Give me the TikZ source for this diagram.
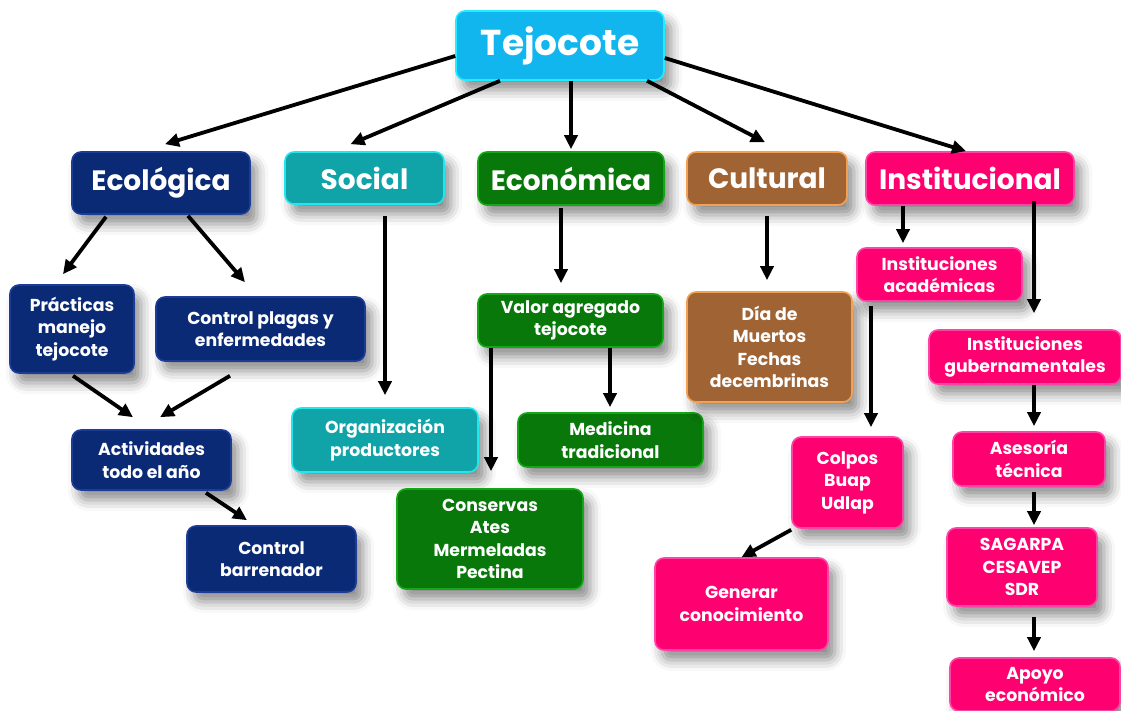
\documentclass[tikz,border=0pt]{standalone}
\usepackage{fontspec}
\setmainfont{Poppins}
\usetikzlibrary{arrows.meta,calc,shadows.blur}

\definecolor{cyanF}{HTML}{12B6EE}\definecolor{cyanE}{HTML}{22EEFF}
\definecolor{navyF}{HTML}{0B2A76}\definecolor{navyE}{HTML}{1C3C98}
\definecolor{tealF}{HTML}{10A4A8}\definecolor{tealE}{HTML}{22E6EE}
\definecolor{greenF}{HTML}{08780A}\definecolor{greenE}{HTML}{14A816}
\definecolor{brownF}{HTML}{A06434}\definecolor{brownE}{HTML}{F2A052}
\definecolor{pinkF}{HTML}{FF0070}\definecolor{pinkE}{HTML}{FF44A8}

\tikzset{
  box/.style={rounded corners=9pt, text=white, align=center, inner sep=0pt,
    line width=1.6pt,
    blur shadow={shadow xshift=7pt, shadow yshift=-10pt, shadow blur radius=11pt, shadow opacity=45}},
  big/.style={box, font=\bfseries\fontsize{28}{31}\selectfont},
  small/.style={box, font=\bfseries\fontsize{17.3}{22.5}\selectfont},
  cyanbox/.style={fill=cyanF, draw=cyanE},
  navybox/.style={fill=navyF, draw=navyE},
  tealbox/.style={fill=tealF, draw=tealE},
  greenbox/.style={fill=greenF, draw=greenE},
  brownbox/.style={fill=brownF, draw=brownE},
  pinkbox/.style={fill=pinkF, draw=pinkE},
  arr/.style={line width=3.8pt, -{Triangle[length=14pt,width=13pt]}}
}

\begin{document}
\begin{tikzpicture}[x=1pt,y=-1pt]
\useasboundingbox (0,0) rectangle (1121,711);

% root
\node[big, cyanbox, font=\bfseries\fontsize{36}{40}\selectfont, minimum width=208, minimum height=69] (tej) at (560,45.5) {Tejocote};

% first level
\node[big, navybox,  minimum width=178, minimum height=62] (eco)  at (161,183)   {Ecológica};
\node[big, tealbox,  minimum width=159, minimum height=52] (soc)  at (364.5,178) {Social};
\node[big, greenbox, minimum width=186, minimum height=53] (econ) at (571,178.5) {Económica};
\node[big, brownbox, minimum width=160, minimum height=53] (cul)  at (767,178.5) {Cultural};
\node[big, pinkbox,  minimum width=208, minimum height=53] (ins)  at (970,178.5) {Institucional};

% ecological branch
\node[small, navybox, minimum width=124, minimum height=88] (prac) at (72,329)    {Prácticas\\manejo\\tejocote};
\node[small, navybox, minimum width=209, minimum height=64] (cpl)  at (260.5,329) {Control plagas y\\enfermedades};
\node[small, navybox, minimum width=159, minimum height=60] (act)  at (151.5,460) {Actividades\\todo el año};
\node[small, navybox, minimum width=169, minimum height=66] (cb)   at (271.5,559) {Control\\barrenador};

% social branch
\node[small, tealbox, minimum width=186, minimum height=64] (org) at (385,440) {Organización\\productores};

% economic branch
\node[small, greenbox, minimum width=185, minimum height=53]  (val)  at (570.5,320.5) {Valor agregado\\tejocote};
\node[small, greenbox, minimum width=185, minimum height=54]  (med)  at (610.5,440)   {Medicina\\tradicional};
\node[small, greenbox, minimum width=186, minimum height=100] (cons) at (490,539)     {Conservas\\Ates\\Mermeladas\\Pectina};

% cultural branch
\node[small, brownbox, minimum width=165, minimum height=110] (dia) at (769.5,347) {Día de\\Muertos\\Fechas\\decembrinas};

% institutional branch
\node[small, pinkbox, minimum width=165, minimum height=53] (iac)  at (939.5,274.5) {Instituciones\\académicas};
\node[small, pinkbox, minimum width=192, minimum height=54] (igub) at (1025,357)    {Instituciones\\gubernamentales};
\node[small, pinkbox, minimum width=111, minimum height=91] (col)  at (847.5,482.5) {Colpos\\Buap\\Udlap};
\node[small, pinkbox, minimum width=173, minimum height=92] (gen)  at (741.5,604)   {Generar\\conocimiento};
\node[small, pinkbox, minimum width=152, minimum height=54] (ase)  at (1029,459)    {Asesoría\\técnica};
\node[small, pinkbox, minimum width=150, minimum height=78] (sag)  at (1022,567)    {SAGARPA\\CESAVEP\\SDR};
\node[small, pinkbox, minimum width=170, minimum height=53] (apo)  at (1035,684.5)  {Apoyo\\económico};

% connectors from the root
\draw[arr] ($(tej.west)+(0,10.5)$)  -- ($(eco.north)+(4,-7)$);
\draw[arr] ($(tej.south)+(-60,0)$)  -- ($(soc.north)+(-14,-7)$);
\draw[arr] ($(tej.south)+(11,0)$)   -- ($(econ.north)+(0,-2)$);
\draw[arr] ($(tej.south)+(87,0)$)   -- ($(cul.north)+(-2,-9)$);
\draw[arr] ($(tej.east)+(0,12.5)$)  -- ($(ins.north)+(-4,0)$);

% ecological connectors
\draw[arr] ($(eco.south)+(-55,2)$)   -- ($(prac.north)+(-9,-10)$);
\draw[arr] ($(eco.south)+(27,1)$)    -- ($(cpl.north)+(-15.5,-14)$);
\draw[arr] ($(prac.south)+(1,2)$)    -- ($(act.north)+(-18.5,-12)$);
\draw[arr] ($(cpl.south)+(-30.5,14)$) -- ($(act.north)+(8.5,-12)$);
\draw[arr] ($(act.south)+(54.5,2)$)  -- ($(cb.north)+(-24.5,-5)$);

% social connector
\draw[arr] ($(soc.south)+(20.5,11)$) -- ($(org.north)+(0,-12)$);

% economic connectors
\draw[arr] ($(econ.south)+(-10,2)$)  -- ($(val.north)+(-9.5,-10)$);
\draw[arr] ($(val.south)+(-79.5,0)$) -- ($(cons.north)+(1,-17)$);
\draw[arr] ($(val.south)+(39.5,0)$)  -- ($(med.north)+(-0.5,-5)$);

% cultural connector
\draw[arr] ($(cul.south)+(0,10)$) -- ($(dia.north)+(-2.5,-11)$);

% institutional connectors
\draw[arr] ($(ins.south)+(-67,0)$)   -- ($(iac.north)+(-36.5,-4)$);
\draw[arr] ($(ins.south)+(64,-5)$)   -- ($(igub.north)+(9,-16)$);
\draw[arr] ($(iac.south)+(-68.5,4)$) -- ($(col.north)+(23.5,-9)$);
\draw[arr] ($(col.south west)+(0,1)$) -- (gen.north);
\draw[arr] ($(igub.south)+(9,0)$)    -- ($(ase.north)+(5,-5)$);
\draw[arr] ($(ase.south)+(5,5)$)     -- ($(sag.north)+(12,-2)$);
\draw[arr] ($(sag.south)+(12,10)$)   -- ($(apo.north)+(-1,-6)$);
\end{tikzpicture}
\end{document}
